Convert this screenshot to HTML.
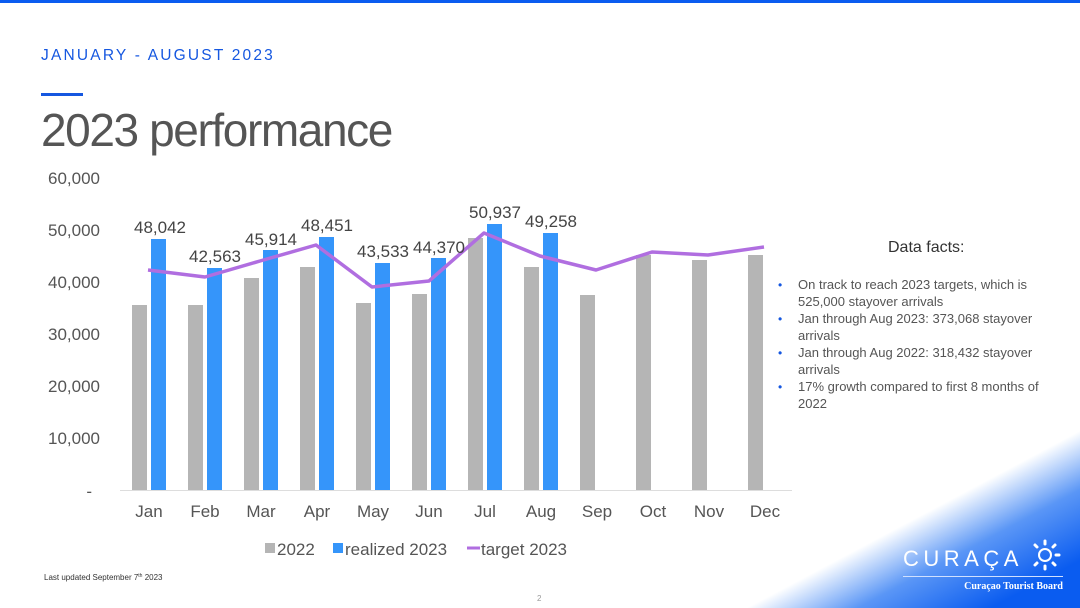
<!DOCTYPE html>
<html><head><meta charset="utf-8"><style>
body{margin:0;width:1080px;height:608px;overflow:hidden;background:#fff;font-family:"Liberation Sans",sans-serif;position:relative}
</style></head><body>
<div style="position:absolute;left:0;top:0;width:1080px;height:3px;background:#0a5cf0"></div>
<div style="position:absolute;left:0;top:0;width:1080px;height:608px;background:linear-gradient(152deg,rgba(255,255,255,0) 0%,rgba(255,255,255,0) 85%,#5a96f6 90%,#0a5cf0 96%)"></div>
<div style="position:absolute;left:41px;top:47px;font-size:15.5px;letter-spacing:2.2px;color:#1557e0">JANUARY - AUGUST 2023</div>
<div style="position:absolute;left:41px;top:93px;width:42px;height:3px;background:#1557e0"></div>
<div style="position:absolute;left:41px;top:103px;font-size:46px;letter-spacing:-1.4px;color:#555">2023 performance</div>
<svg style="position:absolute;left:0;top:0" width="1080" height="608" font-family="Liberation Sans, sans-serif">
<g fill="#555" font-size="17" text-anchor="end">
<text x="100" y="184">60,000</text><text x="100" y="236">50,000</text><text x="100" y="288">40,000</text>
<text x="100" y="340">30,000</text><text x="100" y="392">20,000</text><text x="100" y="444">10,000</text><text x="92" y="497">-</text>
</g>
<line x1="120" y1="490.5" x2="792" y2="490.5" stroke="#ddd"/>
<g fill="#b5b5b5">
<rect x="132" y="305" width="15" height="185"/><rect x="188" y="305" width="15" height="185"/>
<rect x="244" y="278" width="15" height="212"/><rect x="300" y="267" width="15" height="223"/>
<rect x="356" y="303" width="15" height="187"/><rect x="412" y="294" width="15" height="196"/>
<rect x="468" y="238" width="15" height="252"/><rect x="524" y="267" width="15" height="223"/>
<rect x="580" y="295" width="15" height="195"/><rect x="636" y="255" width="15" height="235"/>
<rect x="692" y="260" width="15" height="230"/><rect x="748" y="255" width="15" height="235"/>
</g>
<g fill="#3595fa">
<rect x="151" y="239" width="15" height="251"/><rect x="207" y="268" width="15" height="222"/>
<rect x="263" y="250" width="15" height="240"/><rect x="319" y="237" width="15" height="253"/>
<rect x="375" y="263" width="15" height="227"/><rect x="431" y="258" width="15" height="232"/>
<rect x="487" y="224" width="15" height="266"/><rect x="543" y="233" width="15" height="257"/>
</g>
<polyline fill="none" stroke="#b06ee0" stroke-width="3.5" stroke-linejoin="round" points="148,270 205,277 260,261 316,245 372,287 429,281 484,233 540,256 596,270 652,252 708,255 764,247"/>
<g fill="#444" font-size="17" text-anchor="middle">
<text x="160" y="233">48,042</text><text x="215" y="262">42,563</text><text x="271" y="245">45,914</text>
<text x="327" y="231">48,451</text><text x="383" y="257">43,533</text><text x="439" y="253">44,370</text>
<text x="495" y="218">50,937</text><text x="551" y="227">49,258</text>
</g>
<g fill="#555" font-size="17" text-anchor="middle">
<text x="149" y="517">Jan</text><text x="205" y="517">Feb</text><text x="261" y="517">Mar</text><text x="317" y="517">Apr</text>
<text x="373" y="517">May</text><text x="429" y="517">Jun</text><text x="485" y="517">Jul</text><text x="541" y="517">Aug</text>
<text x="597" y="517">Sep</text><text x="653" y="517">Oct</text><text x="709" y="517">Nov</text><text x="765" y="517">Dec</text>
</g>
<rect x="265" y="543" width="10" height="10" fill="#b5b5b5"/><text x="277" y="555" font-size="17" fill="#555">2022</text>
<rect x="333" y="543" width="10" height="10" fill="#3595fa"/><text x="345" y="555" font-size="17" fill="#555">realized 2023</text>
<line x1="467" y1="548" x2="480" y2="548" stroke="#b06ee0" stroke-width="3"/><text x="481" y="555" font-size="17" fill="#555">target 2023</text>
<text x="888" y="252" font-size="16" fill="#333">Data facts:</text>
<g font-size="13" fill="#555">
<text x="798" y="289">On track to reach 2023 targets, which is</text><text x="798" y="306">525,000 stayover arrivals</text>
<text x="798" y="323">Jan through Aug 2023: 373,068 stayover</text><text x="798" y="340">arrivals</text>
<text x="798" y="357">Jan through Aug 2022: 318,432 stayover</text><text x="798" y="374">arrivals</text>
<text x="798" y="391">17% growth compared to first 8 months of</text><text x="798" y="408">2022</text>
</g>
<g fill="#1557e0" font-size="12"><text x="778" y="289">•</text><text x="778" y="323">•</text><text x="778" y="357">•</text><text x="778" y="391">•</text></g>
<text x="44" y="580" font-size="8" fill="#333">Last updated September 7<tspan font-size="5" dy="-3">th</tspan><tspan dy="3">  2023</tspan></text>
<text x="537" y="601" font-size="8" fill="#999">2</text>
<text x="903" y="566" font-size="22" fill="#fff" letter-spacing="4.5">CURAÇA</text>
<circle cx="1045" cy="555" r="6" fill="none" stroke="#fff" stroke-width="2"/>
<g stroke="#fff" stroke-width="3" stroke-linecap="round">
<line x1="1045" y1="544" x2="1045" y2="541"/><line x1="1045" y1="566" x2="1045" y2="569"/>
<line x1="1056" y1="555" x2="1059" y2="555"/><line x1="1053" y1="547" x2="1055" y2="545"/><line x1="1053" y1="563" x2="1055" y2="565"/>
<line x1="1037" y1="547" x2="1035" y2="545"/><line x1="1037" y1="563" x2="1035" y2="565"/>
</g>
<line x1="903" y1="576.5" x2="1063" y2="576.5" stroke="#cfe0ff" stroke-width="1"/>
<text x="1063" y="589" font-size="10" fill="#fff" text-anchor="end" font-family="Liberation Serif, serif" font-weight="bold">Curaçao Tourist Board</text>
</svg>
</body></html>
